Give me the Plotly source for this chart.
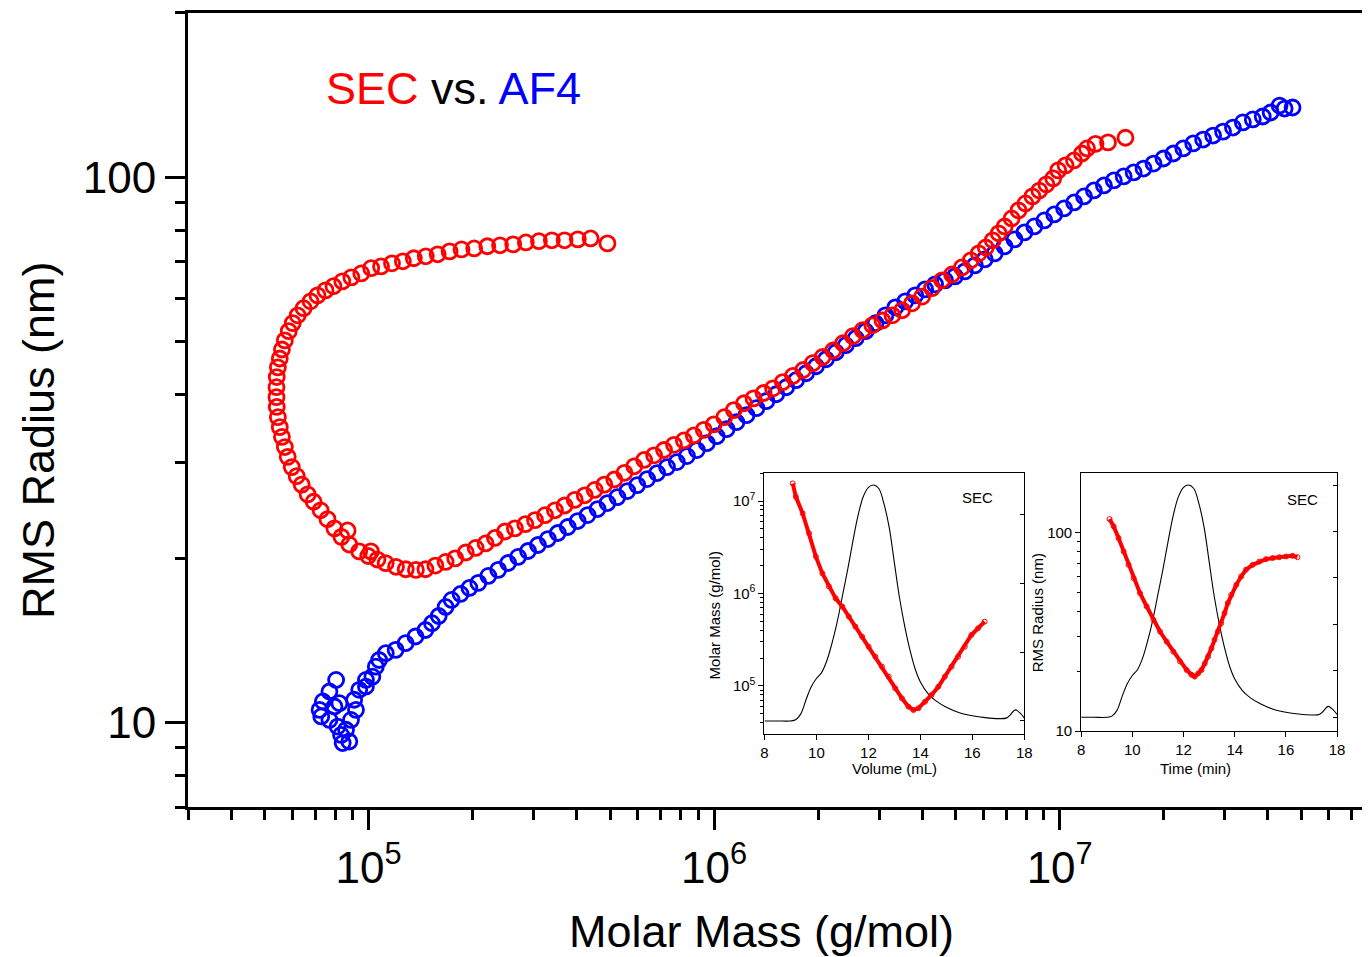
import plotly.graph_objects as go

# ---------------- main panel: RMS radius vs molar mass ----------------
sec_mass = [
    1.55e7, 1.38e7, 1.27e7, 1.20e7, 1.16e7, 1.10e7, 1.04e7, 9.90e6, 9.58e6, 9.15e6,
    8.73e6, 8.34e6, 7.96e6, 7.60e6, 7.26e6, 6.93e6, 6.66e6, 6.40e6, 6.11e6, 5.83e6,
    5.53e6, 5.21e6, 4.88e6, 4.57e6, 4.27e6, 4.00e6, 3.74e6, 3.50e6, 3.28e6, 3.07e6,
    2.87e6, 2.69e6, 2.52e6, 2.36e6, 2.21e6, 2.06e6, 1.93e6, 1.81e6, 1.69e6, 1.58e6,
    1.48e6, 1.39e6, 1.30e6, 1.22e6, 1.14e6, 1.07e6, 9.97e5, 9.33e5, 8.73e5, 8.17e5,
    7.65e5, 7.16e5, 6.70e5, 6.27e5, 5.87e5, 5.50e5, 5.14e5, 4.81e5, 4.51e5, 4.22e5,
    3.95e5, 3.69e5, 3.46e5, 3.24e5, 3.03e5, 2.84e5, 2.65e5, 2.48e5, 2.32e5, 2.18e5,
    2.04e5, 1.91e5, 1.78e5, 1.67e5, 1.56e5, 1.46e5, 1.37e5, 1.28e5, 1.20e5, 1.12e5,
    1.06e5, 1.015e5, 9.97e4, 9.39e4, 8.79e4, 8.69e4, 8.34e4, 7.96e4, 7.60e4, 7.26e4,
    6.93e4, 6.66e4, 6.40e4, 6.19e4, 5.99e4, 5.83e4, 5.72e4, 5.61e4, 5.53e4, 5.46e4,
    5.42e4, 5.41e4, 5.41e4, 5.42e4, 5.46e4, 5.53e4, 5.61e4, 5.72e4, 5.87e4, 6.03e4,
    6.23e4, 6.48e4, 6.79e4, 7.11e4, 7.50e4, 7.91e4, 8.39e4, 8.91e4, 9.52e4, 1.017e5,
    1.086e5, 1.168e5, 1.256e5, 1.351e5, 1.463e5, 1.584e5, 1.715e5, 1.857e5, 2.02e5, 2.205e5,
    2.40e5, 2.62e5, 2.85e5, 3.11e5, 3.39e5, 3.69e5, 4.03e5, 4.39e5, 4.91e5,
]
sec_radius = [
    118.1, 115.8, 115.1, 112.9, 110.5, 107.3, 105.1, 102.9, 99.5, 97.0,
    94.5, 92.2, 89.5, 86.9, 84.0, 81.2, 78.9, 76.6, 74.3, 72.5,
    70.4, 68.3, 66.3, 64.7, 62.6, 60.4, 58.7, 57.0, 55.8, 54.6,
    53.5, 52.4, 51.1, 49.6, 48.1, 46.8, 45.6, 44.3, 43.2, 42.1,
    41.0, 40.2, 39.3, 38.5, 37.4, 36.3, 35.2, 34.4, 33.6, 32.9,
    32.3, 31.6, 30.9, 30.3, 29.5, 28.7, 27.9, 27.3, 26.7, 26.1,
    25.6, 25.0, 24.5, 24.0, 23.5, 23.1, 22.7, 22.4, 21.8, 21.3,
    20.9, 20.5, 20.0, 19.7, 19.4, 19.1, 19.05, 19.1, 19.3, 19.6,
    19.9, 20.6, 20.2, 20.6, 21.2, 22.5, 21.9, 22.7, 23.6, 24.5,
    25.4, 26.2, 27.3, 28.3, 29.4, 30.7, 32.0, 33.4, 34.8, 36.3,
    37.9, 39.5, 41.2, 43.0, 44.8, 46.5, 48.3, 50.2, 52.2, 54.0,
    55.8, 57.5, 59.2, 60.7, 62.0, 63.1, 64.4, 65.5, 66.6, 68.1,
    68.6, 69.5, 70.1, 71.0, 71.6, 72.2, 73.1, 73.7, 74.0, 74.7,
    75.0, 75.3, 75.9, 76.3, 76.6, 76.6, 76.9, 77.2, 75.6,
]

af4_mass = [
    8.05e4, 7.70e4, 7.37e4, 7.21e4, 7.29e4, 7.70e4, 7.96e4, 8.23e4, 8.13e4, 8.32e4,
    8.41e4, 8.79e4, 8.60e4, 8.89e4, 9.19e4, 9.08e4, 9.39e4, 9.82e4, 9.82e4, 1.025e5,
    1.049e5, 1.072e5, 1.121e5, 1.197e5, 1.279e5, 1.366e5, 1.460e5, 1.525e5,
    1.595e5, 1.670e5, 1.738e5, 1.845e5, 1.957e5, 2.077e5, 2.220e5, 2.371e5, 2.533e5, 2.707e5,
    2.892e5, 3.090e5, 3.301e5, 3.527e5, 3.768e5, 4.026e5, 4.301e5, 4.597e5, 4.911e5, 5.246e5,
    5.606e5, 5.989e5, 6.398e5, 6.836e5, 7.302e5, 7.80e5, 8.34e5, 8.91e5, 9.52e5, 1.017e6,
    1.086e6, 1.160e6, 1.240e6, 1.325e6, 1.416e6, 1.512e6, 1.616e6, 1.726e6, 1.845e6, 1.971e6,
    2.106e6, 2.249e6, 2.403e6, 2.568e6, 2.743e6, 2.931e6, 3.131e6, 3.345e6, 3.574e6, 3.818e6,
    4.079e6, 4.359e6, 4.657e6, 4.975e6, 5.315e6, 5.679e6, 6.067e6, 6.482e6, 6.925e6, 7.399e6,
    7.907e6, 8.447e6, 9.027e6, 9.643e6, 1.030e7, 1.101e7, 1.176e7, 1.256e7, 1.343e7, 1.434e7,
    1.532e7, 1.637e7, 1.749e7, 1.869e7, 1.997e7, 2.133e7, 2.279e7, 2.435e7, 2.601e7, 2.780e7,
    2.970e7, 3.173e7, 3.390e7, 3.622e7, 3.869e7, 4.080e7, 4.330e7, 4.477e7, 4.720e7,
]
af4_radius = [
    11.97, 11.40, 10.93, 10.55, 10.26, 10.11, 10.70, 10.85, 9.83, 9.49,
    9.17, 9.23, 9.70, 10.11, 10.55, 11.01, 11.48, 11.97, 11.64, 12.14,
    12.66, 13.02, 13.40, 13.59, 13.98, 14.38, 14.78, 15.21,
    15.68, 16.29, 16.78, 17.21, 17.65, 18.03, 18.57, 19.05, 19.61, 20.12,
    20.63, 21.16, 21.70, 22.26, 22.83, 23.41, 24.01, 24.63, 25.26, 25.90,
    26.57, 27.25, 27.95, 28.67, 29.40, 30.03, 30.80, 31.59, 32.53, 33.50,
    34.51, 35.54, 36.61, 37.71, 38.84, 39.99, 41.19, 42.43, 43.70, 45.01,
    46.36, 47.75, 49.19, 50.66, 52.18, 53.97, 55.81, 57.73, 59.19, 60.71,
    62.26, 63.60, 64.68, 65.78, 67.19, 68.91, 70.68, 72.49, 74.66, 76.89,
    79.19, 81.22, 83.30, 85.44, 87.63, 89.87, 92.19, 94.54, 96.56, 98.62,
    100.3, 102.0, 103.7, 105.9, 108.2, 110.5, 112.9, 115.3, 117.2, 119.2,
    121.2, 123.3, 126.0, 127.6, 129.2, 131.4, 135.3, 133.6, 134.2,
]

# ---------------- inset 1: molar mass vs elution volume ----------------
inset_volume = [
    9.09, 9.21, 9.47, 9.72, 9.98, 10.23, 10.48, 10.74, 11.00, 11.25,
    11.50, 11.76, 12.01, 12.27, 12.52, 12.78, 13.03, 13.29, 13.54, 13.73,
    13.92, 14.18, 14.43, 14.69, 14.94, 15.20, 15.45, 15.71, 15.96, 16.22, 16.47,
]
inset_volume_mass = [
    1.55e7, 1.11e7, 7.36e6, 4.48e6, 2.50e6, 1.65e6, 1.19e6, 8.87e5, 7.20e5, 5.61e5,
    4.38e5, 3.41e5, 2.66e5, 2.07e5, 1.62e5, 1.26e5, 9.44e4, 7.36e4, 5.97e4, 5.50e4,
    5.74e4, 6.76e4, 8.0e4, 9.82e4, 1.26e5, 1.62e5, 2.07e5, 2.66e5, 3.56e5, 4.21e5, 4.96e5,
]

# ---------------- inset 2: RMS radius vs elution time ----------------
inset_time = [
    9.11, 9.27, 9.46, 9.66, 9.85, 10.05, 10.30, 10.56, 10.82, 11.08,
    11.34, 11.60, 11.86, 12.12, 12.31, 12.44, 12.57, 12.70, 12.83, 12.96,
    13.09, 13.21, 13.34, 13.47, 13.60, 13.73, 13.86, 14.06, 14.25, 14.44,
    14.70, 14.96, 15.22, 15.48, 15.74, 16.00, 16.26, 16.45,
]
inset_time_radius = [
    116.8, 107.3, 93.7, 80.2, 68.7, 58.9, 49.5, 42.4, 36.3, 31.7,
    28.2, 25.1, 22.4, 20.3, 19.2, 18.8, 19.5, 20.3, 21.9, 23.7,
    26.1, 28.8, 31.7, 34.9, 39.2, 44.1, 48.5, 54.5, 60.0, 64.9,
    68.7, 71.4, 73.4, 74.3, 75.1, 75.7, 76.3, 75.1,
]

# concentration detector trace (relative signal), shared by both insets
trace_x = [
    8.0, 8.5, 9.0, 9.2, 9.4, 9.6, 9.8, 10.0, 10.2, 10.4,
    10.6, 10.8, 11.0, 11.2, 11.4, 11.6, 11.8, 12.0, 12.2, 12.4,
    12.6, 12.8, 13.0, 13.2, 13.4, 13.6, 13.8, 14.0, 14.3, 14.6,
    15.0, 15.5, 16.0, 16.5, 17.0, 17.3, 17.45, 17.65, 17.85, 18.0,
]
trace_signal = [
    0.0, 0.0, 0.0, 0.005, 0.03, 0.09, 0.145, 0.18, 0.205, 0.255,
    0.33, 0.42, 0.53, 0.64, 0.76, 0.87, 0.95, 0.99, 1.0, 0.985,
    0.92, 0.82, 0.67, 0.52, 0.40, 0.30, 0.22, 0.165, 0.115, 0.085,
    0.058, 0.035, 0.022, 0.014, 0.01, 0.012, 0.025, 0.047, 0.032, 0.012,
]

# tick values / labels
main_x_ticks = [1e5, 1e6, 1e7]
main_x_labels = ["10<sup>5</sup>", "10<sup>6</sup>", "10<sup>7</sup>"]
main_x_minor = [3e4, 4e4, 5e4, 6e4, 7e4, 8e4, 9e4,
                2e5, 3e5, 4e5, 5e5, 6e5, 7e5, 8e5, 9e5,
                2e6, 3e6, 4e6, 5e6, 6e6, 7e6, 8e6, 9e6,
                2e7, 3e7, 4e7, 5e7, 6e7, 7e7]
main_y_ticks = [10, 100]
main_y_labels = ["10", "100"]
main_y_minor = [7, 8, 9, 20, 30, 40, 50, 60, 70, 80, 90, 200]

mass_ticks = [1e5, 1e6, 1e7]
mass_labels = ["10<sup>5</sup>", "10<sup>6</sup>", "10<sup>7</sup>"]
mass_minor = [4e4, 5e4, 6e4, 7e4, 8e4, 9e4,
              2e5, 3e5, 4e5, 5e5, 6e5, 7e5, 8e5, 9e5,
              2e6, 3e6, 4e6, 5e6, 6e6, 7e6, 8e6, 9e6, 2e7]
radius_ticks = [10, 100]
radius_labels = ["10", "100"]
radius_minor = [20, 30, 40, 50, 60, 70, 80, 90]

FONT = "Liberation Sans, Arial, sans-serif"
RED = "#ff0000"
BLUE = "#0000ff"

fig = go.Figure()

# main panel traces
fig.add_trace(go.Scatter(
    x=af4_mass, y=af4_radius, mode="markers", name="AF4",
    marker=dict(symbol="circle-open", size=15, color=BLUE, line=dict(width=2.8, color=BLUE)),
    xaxis="x", yaxis="y"))
fig.add_trace(go.Scatter(
    x=sec_mass, y=sec_radius, mode="markers", name="SEC",
    marker=dict(symbol="circle-open", size=15, color=RED, line=dict(width=2.8, color=RED)),
    xaxis="x", yaxis="y"))

# inset 1
fig.add_trace(go.Scatter(
    x=trace_x, y=trace_signal, mode="lines", line=dict(color="black", width=1.1, shape="spline"),
    xaxis="x2", yaxis="y2"))
fig.add_trace(go.Scatter(
    x=inset_volume, y=inset_volume_mass, mode="lines+markers",
    line=dict(color=RED, width=4),
    marker=dict(symbol="circle-open", size=5, color=RED, line=dict(width=1, color=RED)),
    xaxis="x2", yaxis="y3"))

# inset 2
fig.add_trace(go.Scatter(
    x=trace_x, y=trace_signal, mode="lines", line=dict(color="black", width=1.1, shape="spline"),
    xaxis="x3", yaxis="y4"))
fig.add_trace(go.Scatter(
    x=inset_time, y=inset_time_radius, mode="lines+markers",
    line=dict(color=RED, width=4),
    marker=dict(symbol="circle-open", size=5, color=RED, line=dict(width=1, color=RED)),
    xaxis="x3", yaxis="y5"))

main_axis = dict(showline=True, linecolor="black", linewidth=3, showgrid=False, zeroline=False,
                 ticks="outside", ticklen=20, tickwidth=3, tickcolor="black",
                 tickfont=dict(family=FONT, size=44, color="black"))
inset_axis = dict(showline=True, linecolor="black", linewidth=1, showgrid=False, zeroline=False,
                  ticks="outside", ticklen=5, tickwidth=1, tickcolor="black",
                  tickfont=dict(family=FONT, size=15, color="black"))
# top edge of each inset: inward ticks only, no labels
inset_top = dict(showline=False, showgrid=False, zeroline=False, range=[8, 18], dtick=2, tick0=8,
                 ticks="inside", ticklen=4, tickwidth=1, tickcolor="black",
                 showticklabels=False, side="top")

ins1_x = [0.4910, 0.7124]
ins1_y = [0.0916, 0.4210]
ins2_x = [0.7608, 0.9788]
ins2_y = [0.0957, 0.4210]

fig.update_layout(
    width=1370, height=957,
    margin=dict(l=188, r=0, t=13, b=150),
    paper_bgcolor="white", plot_bgcolor="white",
    showlegend=False,
    xaxis=dict(**main_axis, type="log", range=[4.4771, 7.875], domain=[0, 1], anchor="y",
               mirror=True, tickmode="array", tickvals=main_x_ticks, ticktext=main_x_labels,
               ticklabelstandoff=0,
               minor=dict(tickmode="array", tickvals=main_x_minor, ticks="outside",
                          ticklen=10, tickwidth=3, tickcolor="black", showgrid=False)),
    yaxis=dict(**main_axis, type="log", range=[0.8451, 2.3010], domain=[0, 1], anchor="x",
               tickmode="array", tickvals=main_y_ticks, ticktext=main_y_labels,
               ticklabelstandoff=0,
               minor=dict(tickmode="array", tickvals=main_y_minor, ticks="outside",
                          ticklen=10, tickwidth=3, tickcolor="black", showgrid=False)),
    # inset 1
    xaxis2=dict(**inset_axis, range=[8, 18], dtick=2, tick0=8, domain=ins1_x, anchor="y2",
                mirror=True),
    xaxis4=dict(**inset_top, overlaying="x2", anchor="y2"),
    yaxis2=dict(showline=True, linecolor="black", linewidth=1, showgrid=False, zeroline=False,
                range=[-0.0564, 1.052], domain=ins1_y, anchor="x2", side="right",
                ticks="inside", ticklen=4, tickwidth=1, tickcolor="black",
                tick0=0, dtick=0.292, showticklabels=False),
    yaxis3=dict(**inset_axis, type="log", range=[4.478, 7.306], overlaying="y2", anchor="x2",
                side="left", tickmode="array", tickvals=mass_ticks, ticktext=mass_labels,
                minor=dict(tickmode="array", tickvals=mass_minor, ticks="outside",
                           ticklen=3, tickwidth=1, tickcolor="black", showgrid=False)),
    # inset 2
    xaxis3=dict(**inset_axis, range=[8, 18], dtick=2, tick0=8, domain=ins2_x, anchor="y4",
                mirror=True),
    xaxis5=dict(**inset_top, overlaying="x3", anchor="y4"),
    yaxis4=dict(showline=True, linecolor="black", linewidth=1, showgrid=False, zeroline=False,
                range=[-0.059, 1.053], domain=ins2_y, anchor="x3", side="right",
                ticks="inside", ticklen=4, tickwidth=1, tickcolor="black",
                tick0=0, dtick=0.2, showticklabels=False),
    yaxis5=dict(**inset_axis, type="log", range=[1, 2.301], overlaying="y4", anchor="x3",
                side="left", tickmode="array", tickvals=radius_ticks, ticktext=radius_labels,
                minor=dict(tickmode="array", tickvals=radius_minor, ticks="outside",
                           ticklen=3, tickwidth=1, tickcolor="black", showgrid=False)),
)

annotations = [
    dict(text=f"<span style='color:{RED}'>SEC</span> vs. <span style='color:{BLUE}'>AF4</span>",
         x=0.1159, y=0.9055, xanchor="left", yanchor="middle",
         font=dict(family=FONT, size=45, color="black")),
    dict(text="RMS Radius (nm)", x=-0.1277, y=0.4622, textangle=-90,
         xanchor="center", yanchor="middle", font=dict(family=FONT, size=45, color="black")),
    dict(text="Molar Mass (g/mol)", x=0.4882, y=-0.1574,
         xanchor="center", yanchor="middle", font=dict(family=FONT, size=45, color="black")),
    dict(text="SEC", x=0.6726, y=0.3892, xanchor="center", yanchor="middle",
         font=dict(family=FONT, size=15, color="black")),
    dict(text="SEC", x=0.9492, y=0.3879, xanchor="center", yanchor="middle",
         font=dict(family=FONT, size=15, color="black")),
    dict(text="Volume (mL)", x=0.6015, y=0.0479, xanchor="center", yanchor="middle",
         font=dict(family=FONT, size=15, color="black")),
    dict(text="Time (min)", x=0.8579, y=0.0479, xanchor="center", yanchor="middle",
         font=dict(family=FONT, size=15, color="black")),
    dict(text="Molar Mass (g/mol)", x=0.4484, y=0.2418, textangle=-90,
         xanchor="center", yanchor="middle", font=dict(family=FONT, size=15, color="black")),
    dict(text="RMS Radius (nm)", x=0.7234, y=0.2443, textangle=-90,
         xanchor="center", yanchor="middle", font=dict(family=FONT, size=15, color="black")),
]
for a in annotations:
    a.update(xref="paper", yref="paper", showarrow=False)
fig.update_layout(annotations=annotations)

fig.write_html("out.html")
